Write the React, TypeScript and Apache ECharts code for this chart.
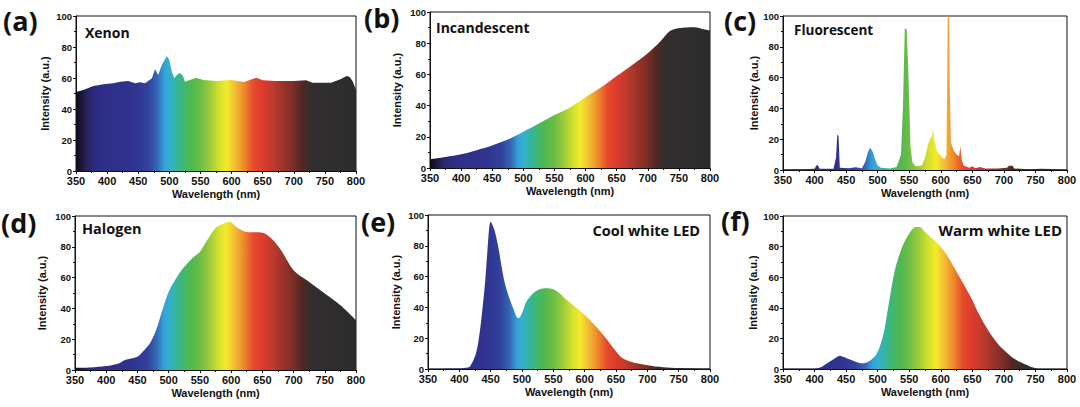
import React, { useEffect, useRef } from "react";
import * as echarts from "echarts";

// ---------- data ----------
const xTicks = [350, 400, 450, 500, 550, 600, 650, 700, 750, 800];
const yTicks = [0, 20, 40, 60, 80, 100];
const panelLetters = ["(a)", "(b)", "(c)", "(d)", "(e)", "(f)"];
const lampNames = ["Xenon", "Incandescent", "Fluorescent", "Halogen", "Cool white LED", "Warm white LED"];

const xenonNm = [350, 362, 378, 394, 410, 421, 434, 445, 453, 461, 472, 477, 482, 488, 496, 500, 504, 508, 512, 517, 522, 525, 533, 543, 555, 576, 600, 620, 640, 650, 670, 700, 720, 730, 760, 775, 785, 790, 795, 800];
const xenonI = [51, 52.3, 54.8, 55.9, 56.6, 57.6, 58, 56.6, 57.2, 56.6, 59.8, 65.6, 62, 68.4, 74.2, 71.6, 64, 59.8, 62, 63.4, 61.3, 57.6, 58.7, 60.2, 58.7, 58, 58.7, 57.4, 60.2, 58.5, 58, 58, 58.5, 57, 57, 59.2, 61.3, 60.7, 57.6, 52.3];

const incNm = [350, 375, 400, 425, 450, 475, 500, 525, 550, 575, 600, 625, 650, 675, 700, 715, 725, 735, 745, 760, 775, 790, 800];
const incI = [5.6, 7.1, 8.8, 11.4, 14.4, 18.2, 23.2, 28.5, 33.9, 38.8, 45.3, 51.7, 59, 66.1, 73.6, 79, 83.3, 87.6, 89.3, 90.1, 90.3, 89, 88.2];

const fluNm = [350, 380, 400, 403, 405, 408, 430, 434, 436, 438, 440, 455, 465, 475, 480, 485, 488, 492, 496, 500, 505, 520, 530, 537, 540, 543, 546, 548, 550, 552, 555, 560, 570, 575, 580, 583, 586, 588, 590, 594, 598, 602, 606, 609, 611, 613, 614, 616, 620, 625, 629, 631, 633, 636, 645, 650, 655, 662, 670, 690, 705, 708, 714, 716, 740, 760, 800];
const fluI = [0.3, 0.5, 0.8, 3, 3.2, 0.8, 0.8, 8, 23, 22, 1.5, 1.2, 1.8, 1.2, 5, 12, 14.5, 12, 7, 3, 1.5, 1, 2, 10, 40, 92, 91, 70, 45, 15, 5, 2.5, 3, 8, 17, 20, 22, 26, 20, 12, 10, 8, 7, 10, 100, 100, 60, 18, 13, 10, 9, 15.5, 7, 3, 1.5, 2.5, 1.2, 2, 1, 1, 1.5, 2.8, 2.8, 1, 0.5, 0.8, 0.3];

const halNm = [350, 375, 400, 420, 430, 450, 460, 470, 480, 490, 500, 510, 525, 540, 550, 560, 575, 590, 598, 610, 625, 650, 665, 680, 700, 725, 750, 775, 800];
const halI = [1.5, 1.7, 2.6, 4.3, 6.5, 8.6, 12.5, 17.3, 26, 39, 50.8, 58.3, 67, 73.4, 76.7, 83.2, 92.2, 95.5, 96.1, 92.4, 89.6, 89.2, 85.3, 77.8, 64.8, 57.2, 49.7, 42.1, 32.4];

const coolNm = [350, 400, 410, 417, 425, 430, 435, 441, 445, 450, 456, 462, 467, 472, 478, 486, 494, 497, 502, 507, 518, 528, 539, 550, 560, 571, 600, 625, 640, 650, 660, 675, 700, 725, 750, 800];
const coolI = [0.2, 0.3, 0.8, 1.7, 8.2, 16.8, 32, 55.7, 77.3, 95.6, 90.3, 79.5, 67.6, 56.8, 48.2, 39.5, 33, 33.7, 38.4, 43.8, 49.2, 51.8, 52.5, 51.8, 49.2, 44.9, 35.2, 24.4, 16.8, 11.4, 7.1, 4.5, 2.4, 1.1, 0.6, 0.2];

const warmNm = [350, 400, 410, 420, 430, 440, 445, 455, 465, 475, 485, 495, 500, 505, 510, 515, 520, 525, 530, 540, 550, 560, 567, 575, 590, 600, 610, 625, 640, 650, 660, 675, 690, 700, 715, 730, 745, 755, 800];
const warmI = [0.2, 0.2, 1.1, 3.7, 6.3, 8.7, 8, 6.3, 4.8, 3.7, 4.8, 8, 11.3, 16.7, 24.3, 36.3, 48.3, 60.2, 69, 80.9, 88.5, 92.8, 92.8, 89.6, 84.1, 79.8, 74.3, 63.5, 52.6, 45, 36.3, 25.4, 16.7, 12.4, 7, 3.7, 1.1, 0.2, 0.1];

// spectral colour stops (wavelength -> colour)
const stopNm = [350, 358, 370, 385, 440, 465, 480, 492, 500, 510, 520, 535, 550, 565, 580, 592, 605, 620, 635, 650, 665, 680, 700, 715, 730, 800];
const stopColor = ["#0d0d14", "#1a1538", "#2a2466", "#2e2d86", "#2f338f", "#31409c", "#3565b5", "#34a2d9", "#34afd0", "#33b5a6", "#3db77a", "#4fb84e", "#6cbd45", "#9ccb3b", "#d4e02d", "#f3ea2a", "#f2bf34", "#ef8a2c", "#e54b2c", "#dc3b2d", "#c23a2e", "#a0352b", "#792d26", "#4d2724", "#322e2e", "#2c2c2c"];

// ---------- layout ----------
const grids = [
  { left: 76, right: 724, top: 16, bottom: 236, yGap: 26 },
  { left: 430, right: 370, top: 12, bottom: 239, yGap: 28 },
  { left: 783, right: 13, top: 16, bottom: 237, yGap: 23 },
  { left: 75, right: 724, top: 216, bottom: 37, yGap: 28 },
  { left: 428, right: 370, top: 215, bottom: 38, yGap: 27 },
  { left: 783, right: 13, top: 216, bottom: 38, yGap: 25 },
];
const letterPos = [[3, 20], [364, 17], [724, 20], [1, 222], [361, 221], [721, 220]];
const namePos: [number, number, string, number][] = [
  [85, 32, "left", 14],
  [436, 27, "left", 14],
  [794, 30, "left", 13.5],
  [82, 228, "left", 14.5],
  [700, 230, "right", 14.5],
  [1062, 230, "right", 15],
];

export default function App() {
  const ref = useRef<HTMLDivElement>(null);
  useEffect(() => {
    if (!ref.current) return;
    const chart = echarts.init(ref.current, undefined, { renderer: "svg" });
    const stops = stopNm.map((n, i) => ({ offset: (n - 350) / 450, color: stopColor[i] }));
    const spectra = [
      [xenonNm, xenonI, false],
      [incNm, incI, true],
      [fluNm, fluI, false],
      [halNm, halI, true],
      [coolNm, coolI, true],
      [warmNm, warmI, true],
    ] as [number[], number[], boolean][];
    const font = "'Liberation Sans', Arial, sans-serif";
    const option: any = {
      animation: false,
      backgroundColor: "#fff",
      grid: grids.map((g) => ({
        left: g.left,
        right: g.right,
        top: g.top,
        bottom: g.bottom,
        show: true,
        borderColor: "#111",
        borderWidth: 1,
        backgroundColor: "transparent",
      })),
      xAxis: grids.map((g, i) => ({
        type: "value",
        gridIndex: i,
        min: 350,
        max: 800,
        interval: 50,
        name: "Wavelength (nm)",
        nameLocation: "middle",
        nameGap: 17,
        nameTextStyle: { fontFamily: font, fontWeight: "bold", fontSize: 11, color: "#111" },
        axisLine: { show: true, lineStyle: { color: "#111", width: 1 } },
        axisTick: { show: true, length: 3, lineStyle: { color: "#111" } },
        minorTick: { show: true, splitNumber: 2, length: 2, lineStyle: { color: "#111" } },
        splitLine: { show: false },
        axisLabel: {
          margin: 4,
          fontFamily: font,
          fontWeight: "bold",
          fontSize: 11,
          lineHeight: 11,
          color: "#111",
          formatter: (v: number) => (xTicks.includes(v) ? String(v) : ""),
        },
      })),
      yAxis: grids.map((g, i) => ({
        type: "value",
        gridIndex: i,
        min: 0,
        max: 100,
        interval: 20,
        name: "Intensity (a.u.)",
        nameLocation: "middle",
        nameGap: g.yGap,
        nameTextStyle: { fontFamily: font, fontWeight: "bold", fontSize: 11, color: "#111" },
        axisLine: { show: true, lineStyle: { color: "#111", width: 1 } },
        axisTick: { show: true, length: 3, lineStyle: { color: "#111" } },
        minorTick: { show: true, splitNumber: 2, length: 2, lineStyle: { color: "#111" } },
        splitLine: { show: false },
        axisLabel: {
          margin: 4,
          fontFamily: font,
          fontWeight: "bold",
          fontSize: 9.5,
          lineHeight: 8,
          color: "#111",
          formatter: (v: number) => (yTicks.includes(v) ? String(v) : ""),
        },
      })),
      series: spectra.map(([nm, val, smooth], i) => ({
        type: "line",
        name: lampNames[i],
        xAxisIndex: i,
        yAxisIndex: i,
        data: nm.map((n, k) => [n, val[k]]),
        showSymbol: false,
        smooth: smooth ? 0.3 : false,
        lineStyle: { width: 0, opacity: 0 },
        areaStyle: {
          opacity: 1,
          color: new echarts.graphic.LinearGradient(0, 0, 1, 0, stops),
        },
        silent: true,
      })),
      graphic: [
        ...panelLetters.map((t, i) => ({
          type: "text",
          x: letterPos[i][0],
          y: letterPos[i][1],
          style: {
            text: t,
            fontFamily: "'Open Sans', sans-serif",
            fontWeight: "bold",
            fontSize: 27,
            fill: "#111",
            textVerticalAlign: "middle",
            verticalAlign: "middle",
          },
        })),
        ...lampNames.map((t, i) => ({
          type: "text",
          x: namePos[i][0],
          y: namePos[i][1],
          style: {
            text: t,
            fontFamily: "'Open Sans', sans-serif",
            fontWeight: "bold",
            fontSize: namePos[i][3],
            fill: "#111",
            align: namePos[i][2],
            textAlign: namePos[i][2],
            verticalAlign: "middle",
            textVerticalAlign: "middle",
          },
        })),
      ],
    };
    chart.setOption(option);
    return () => chart.dispose();
  }, []);
  return (
    <div
      ref={ref}
      style={{ position: "absolute", left: 0, top: 0, width: 1080, height: 407, background: "#fff" }}
    />
  );
}
